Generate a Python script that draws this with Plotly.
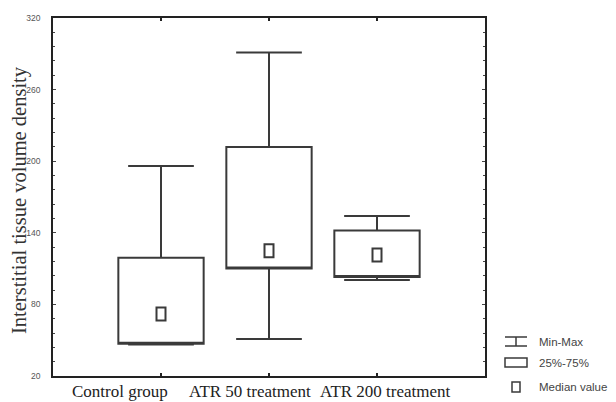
import plotly.graph_objects as go

categories = ["Control group", "ATR 50 treatment", "ATR 200 treatment"]
min_vals = [46.5, 51, 100.5]
q1_vals = [47, 110, 103]
median_vals = [72, 125, 121.5]
q3_vals = [119, 212, 142]
max_vals = [196, 291, 154]
y_ticks = [20, 80, 140, 200, 260, 320]
legend_labels = ["Min-Max", "25%-75%", "Median value"]
y_title = "Interstitial tissue volume density"

# style: horizontal offsets (px) of category labels as in the original figure
label_shift = [-41, -19, 8]

LINE = "#3a3a3a"
fig = go.Figure()

fig.add_trace(go.Box(
    x=categories,
    q1=q1_vals, median=q1_vals, q3=q3_vals,
    lowerfence=min_vals, upperfence=max_vals,
    fillcolor="white",
    line=dict(color=LINE, width=2),
    width=0.79, whiskerwidth=0.77,
    boxpoints=False, showlegend=False, hoverinfo="skip",
))

# median markers (small open rectangles) sized in pixels, anchored to data
for c, m in zip(categories, median_vals):
    fig.add_shape(type="rect", xref="x", yref="y",
                  xsizemode="pixel", ysizemode="pixel",
                  xanchor=c, yanchor=m, x0=-4.5, x1=4.5, y0=-6.5, y1=6.5,
                  line=dict(color=LINE, width=2), fillcolor="white")

# category labels
for c, s in zip(categories, label_shift):
    fig.add_annotation(x=c, y=0, xref="x", yref="paper", yanchor="top",
                       xshift=s, yshift=-4, text=c, showarrow=False,
                       font=dict(family="Liberation Serif, Times New Roman", size=17, color="#222"))

# helpers: screen pixel -> paper coords (plot area 53..485 x 18..376)
def px_x(p):
    return (p - 53) / 432.0

def px_y(p):
    return (376 - p) / 358.0

# y-axis title
fig.add_annotation(x=px_x(19), y=px_y(200), xref="paper", yref="paper",
                   text=y_title, textangle=-90, showarrow=False,
                   xanchor="center", yanchor="middle",
                   font=dict(family="Liberation Serif, Times New Roman", size=20.5, color="#333"))

# legend (drawn manually, outside plot area)
lg = dict(color=LINE, width=1.5)
fig.add_shape(type="line", xref="paper", yref="paper", x0=px_x(505), x1=px_x(527), y0=px_y(337), y1=px_y(337), line=lg)
fig.add_shape(type="line", xref="paper", yref="paper", x0=px_x(516), x1=px_x(516), y0=px_y(337), y1=px_y(346), line=lg)
fig.add_shape(type="line", xref="paper", yref="paper", x0=px_x(505), x1=px_x(527), y0=px_y(346), y1=px_y(346), line=lg)
fig.add_shape(type="rect", xref="paper", yref="paper", x0=px_x(505), x1=px_x(527), y0=px_y(367), y1=px_y(358), line=lg)
fig.add_shape(type="rect", xref="paper", yref="paper", x0=px_x(512), x1=px_x(520), y0=px_y(392), y1=px_y(382), line=lg)
for lab, yy in zip(legend_labels, [342, 363, 387]):
    fig.add_annotation(x=px_x(537), y=px_y(yy), xref="paper", yref="paper",
                       text=lab, showarrow=False, xanchor="left", yanchor="middle",
                       font=dict(family="Liberation Sans, Arial", size=11.5, color="#444"))

# page body has an 8px margin, so the figure is sized/offset to compensate
fig.update_layout(
    width=608, height=394,
    margin=dict(l=45, r=131, t=10, b=26),
    paper_bgcolor="white", plot_bgcolor="white",
    showlegend=False,
)
fig.update_xaxes(
    type="category", range=[-1, 3], automargin=False,
    showline=True, linecolor="#222", linewidth=1.5, mirror="ticks",
    ticks="inside", ticklen=3, tickcolor="#222", tickwidth=2,
    showgrid=False, zeroline=False, showticklabels=False,
)
fig.update_yaxes(
    range=[20, 320], tickvals=y_ticks, automargin=False,
    showline=True, linecolor="#222", linewidth=1.5, mirror="ticks",
    ticks="inside", ticklen=3, tickcolor="#444", tickwidth=1,
    minor=dict(dtick=12, tick0=20, ticks="inside", ticklen=2, tickcolor="#444", tickwidth=1),
    showgrid=False, zeroline=False,
    tickfont=dict(family="Liberation Sans, Arial", size=8.5, color="#555"),
    ticklabelstandoff=9,
)

fig.write_html("out.html")
